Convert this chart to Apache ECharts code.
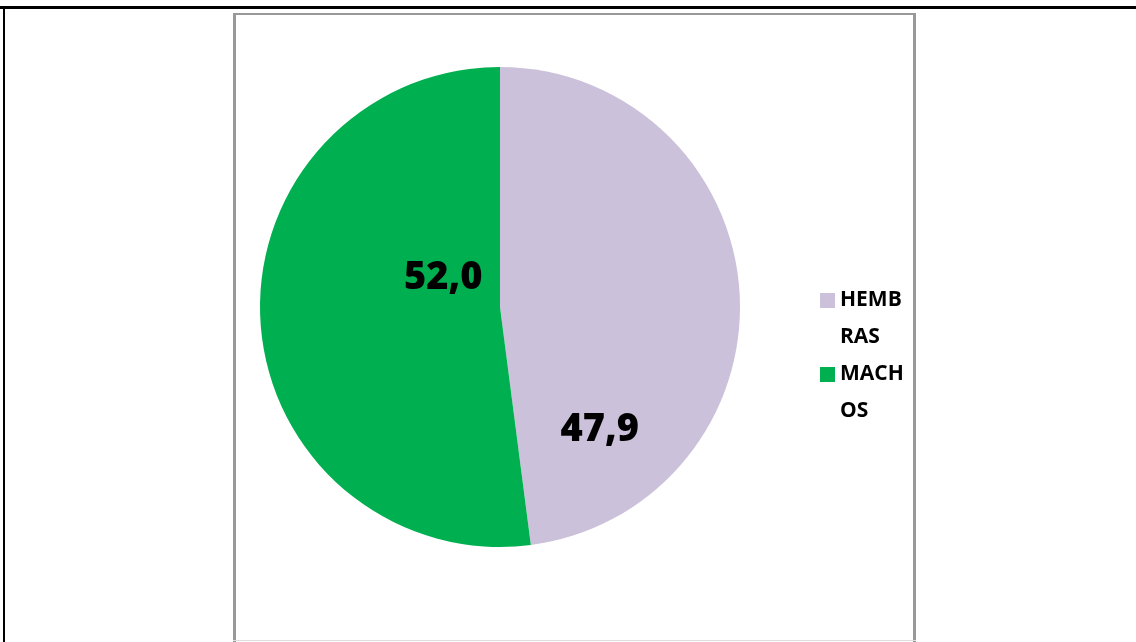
<!DOCTYPE html>
<html>
<head>
<meta charset="utf-8">
<script src="https://cdn.jsdelivr.net/npm/echarts@6/dist/echarts.min.js"></script>
<style>
html,body{margin:0;padding:0;background:#fff;}
#chart{width:1136px;height:642px;}
</style>
</head>
<body>
<div id="chart"></div>
<script>
const categories = ['HEMBRAS', 'MACHOS'];
const values = [47.9, 52.0];
const valueLabels = ['47,9', '52,0'];
const colors = ['#CCC1DA', '#00B050'];
const labelOffsets = [[-23, 131], [66, -37]];

const LH = 37;
const chart = echarts.init(document.getElementById('chart'));
const data = categories.map((name, i) => ({
  name: name,
  value: values[i],
  itemStyle: { color: colors[i] },
  label: { offset: labelOffsets[i] }
}));

chart.setOption({
  animation: false,
  graphic: [
    { type: 'rect', shape: { x: 0, y: 6, width: 1136, height: 3 }, style: { fill: '#000' } },
    { type: 'rect', shape: { x: 3, y: 6, width: 2, height: 636 }, style: { fill: '#000' } },
    { type: 'rect', shape: { x: 233, y: 13, width: 683, height: 2 }, style: { fill: '#999' } },
    { type: 'rect', shape: { x: 233, y: 13, width: 3, height: 629 }, style: { fill: '#999' } },
    { type: 'rect', shape: { x: 913, y: 13, width: 3, height: 629 }, style: { fill: '#999' } },
    { type: 'rect', shape: { x: 233, y: 640, width: 683, height: 1 }, style: { fill: '#ddd' } }
  ],
  legend: {
    orient: 'vertical',
    left: 815,
    top: 240,
    itemWidth: 15,
    itemHeight: 15,
    itemGap: -LH,
    icon: 'rect',
    data: categories,
    formatter: function (name) { return ' \n' + name.slice(0, 4) + '\n' + name.slice(4); },
    textStyle: {
      fontFamily: 'Open Sans',
      fontWeight: 'bold',
      fontSize: 21,
      color: '#000',
      lineHeight: LH
    }
  },
  series: [{
    type: 'pie',
    center: [500, 307],
    radius: [0, 240],
    startAngle: 90,
    clockwise: true,
    silent: true,
    data: data,
    label: {
      show: true,
      position: 'inside',
      formatter: function (p) { return valueLabels[p.dataIndex]; },
      fontFamily: 'Open Sans',
      fontWeight: 800,
      fontSize: 38,
      color: '#000'
    },
    labelLine: { show: false }
  }]
});
</script>
</body>
</html>
